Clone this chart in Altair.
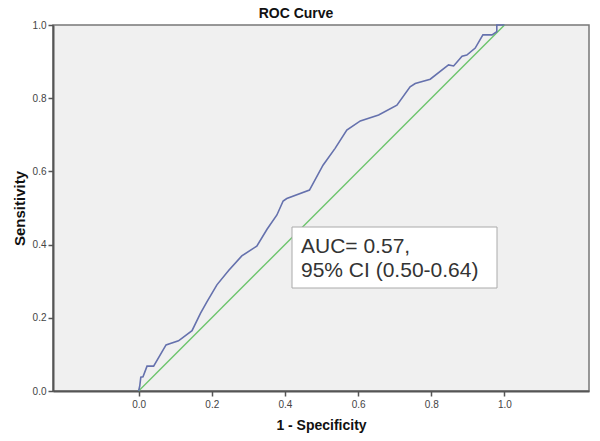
import altair as alt
import pandas as pd

# ROC curve points (1 - specificity, sensitivity)
fpr = [0.0, 0.003, 0.006, 0.012, 0.023, 0.041, 0.075, 0.109, 0.146, 0.169, 0.187,
       0.214, 0.246, 0.282, 0.323, 0.351, 0.378, 0.395, 0.405, 0.467, 0.504,
       0.537, 0.569, 0.606, 0.656, 0.706, 0.742, 0.756, 0.797, 0.847, 0.861,
       0.884, 0.897, 0.920, 0.941, 0.966, 0.979, 0.979, 1.0]
tpr = [0.0, 0.013, 0.038, 0.039, 0.068, 0.068, 0.126, 0.137, 0.165, 0.212, 0.244,
       0.290, 0.329, 0.369, 0.396, 0.442, 0.481, 0.519, 0.526, 0.549, 0.617,
       0.663, 0.713, 0.738, 0.754, 0.781, 0.831, 0.840, 0.852, 0.891, 0.888,
       0.915, 0.918, 0.937, 0.973, 0.973, 0.982, 1.0, 1.0]

# reference (chance) line
ref_x = [0.0, 1.0]
ref_y = [0.0, 1.0]

tick_values = [0.0, 0.2, 0.4, 0.6, 0.8, 1.0]
annot_text = "AUC= 0.57,\n95% CI (0.50-0.64)"
title_text = "ROC Curve"
x_title = "1 - Specificity"
y_title = "Sensitivity"

FONT = "Liberation Sans"

curve_df = pd.DataFrame({"fpr": fpr, "tpr": tpr, "order": list(range(len(fpr)))})
ref_df = pd.DataFrame({"fpr": ref_x, "tpr": ref_y, "order": [0, 1]})
annot_df = pd.DataFrame({"t": [annot_text]})
title_df = pd.DataFrame({"t": [title_text]})

xscale = alt.Scale(domain=[-0.234, 1.231], nice=False, zero=False)
yscale = alt.Scale(domain=[0, 1], nice=False)

xaxis = alt.Axis(values=tick_values, format=".1f", title=x_title, grid=False,
                 domainColor="#555555", domainWidth=2, tickColor="#555555",
                 tickWidth=1.5, tickSize=5, labelFont=FONT, labelFontSize=10,
                 labelColor="#444444", labelPadding=3, titleFont=FONT,
                 titleFontSize=14, titleFontWeight="bold", titleColor="#111111",
                 titlePadding=9)
yaxis = alt.Axis(values=tick_values, format=".1f", title=y_title, grid=False,
                 domainColor="#555555", domainWidth=2, tickColor="#555555",
                 tickWidth=1.5, tickSize=5, labelFont=FONT, labelFontSize=10,
                 labelColor="#444444", labelPadding=2, titleFont=FONT,
                 titleFontSize=15, titleFontWeight="bold", titleColor="#111111",
                 titlePadding=5)

curve = alt.Chart(curve_df).mark_line(color="#6571ad", strokeWidth=1.6).encode(
    x=alt.X("fpr:Q", scale=xscale, axis=xaxis),
    y=alt.Y("tpr:Q", scale=yscale, axis=yaxis),
    order="order:Q",
)

ref = alt.Chart(ref_df).mark_line(color="#6cc46c", strokeWidth=1.4).encode(
    x=alt.X("fpr:Q", scale=xscale),
    y=alt.Y("tpr:Q", scale=yscale),
    order="order:Q",
)

box = alt.Chart(annot_df).mark_rect(fill="white", stroke="#aaaaaa", strokeWidth=1).encode(
    x=alt.value(239), x2=alt.value(444), y=alt.value(202), y2=alt.value(263)
)

label = alt.Chart(annot_df).mark_text(
    align="left", baseline="alphabetic", font=FONT, fontSize=21,
    color="#333333", lineBreak="\n", lineHeight=24
).encode(x=alt.value(248), y=alt.value(228), text="t:N")

title = alt.Chart(title_df).mark_text(
    align="center", baseline="alphabetic", font=FONT, fontSize=14,
    fontWeight="bold", color="#111111"
).encode(x=alt.value(243), y=alt.value(-7), text="t:N")

chart = alt.layer(ref, curve, box, label, title).properties(
    width=536, height=366,
    autosize="none",
    padding={"left": 45, "top": 17, "right": 3, "bottom": 42},
).configure_view(fill="#f0f0f0", stroke="#777777", strokeWidth=1.5)

chart.save("out.html", embed_options={"renderer": "svg", "actions": False})
